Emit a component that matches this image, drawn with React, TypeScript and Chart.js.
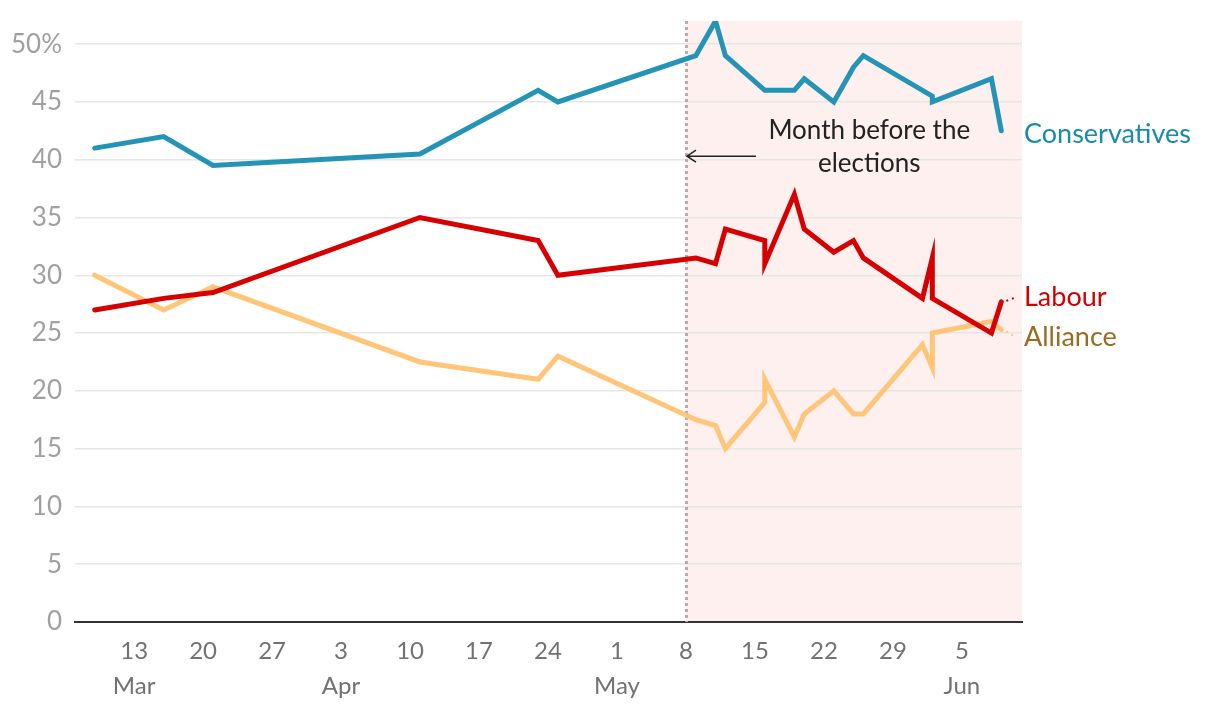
import React, { useEffect, useRef } from "react";
import { Chart, registerables } from "chart.js";

Chart.register(...registerables);

// ---- Data (dates as MM-DD, 1983) ----
const conDates = ["03-09", "03-16", "03-21", "04-11", "04-23", "04-25", "05-09", "05-11", "05-12", "05-16", "05-19", "05-20", "05-23", "05-25", "05-26", "06-02", "06-02", "06-08", "06-09"];
const conValues = [41, 42, 39.5, 40.5, 46, 45, 49, 52, 49, 46, 46, 47, 45, 48, 49, 45.5, 45, 47, 42.5];

const labDates = ["03-09", "03-16", "03-21", "04-11", "04-23", "04-25", "05-09", "05-11", "05-12", "05-16", "05-16", "05-19", "05-20", "05-23", "05-25", "05-26", "06-01", "06-02", "06-02", "06-08", "06-09"];
const labValues = [27, 28, 28.5, 35, 33, 30, 31.5, 31, 34, 33, 31, 37, 34, 32, 33, 31.5, 28, 31.5, 28, 25, 27.7];

const allDates = ["03-09", "03-16", "03-21", "04-11", "04-23", "04-25", "05-09", "05-11", "05-12", "05-16", "05-16", "05-19", "05-20", "05-23", "05-25", "05-26", "06-01", "06-02", "06-02", "06-08", "06-09"];
const allValues = [30, 27, 29, 22.5, 21, 23, 17.5, 17, 15, 19, 21, 16, 18, 20, 18, 18, 24, 22, 25, 26, 25.3];

const seriesNames = ["Conservatives", "Labour", "Alliance"];

const tickDates = ["03-13", "03-20", "03-27", "04-03", "04-10", "04-17", "04-24", "05-01", "05-08", "05-15", "05-22", "05-29", "06-05"];
const dayLabels = ["13", "20", "27", "3", "10", "17", "24", "1", "8", "15", "22", "29", "5"];
const monthLabels = ["Mar", "", "", "Apr", "", "", "", "May", "", "", "", "", "Jun"];
const yTickValues = [0, 5, 10, 15, 20, 25, 30, 35, 40, 45, 50];

const rangeStart = "03-07";
const rangeEnd = "06-11";
const shadeStart = "05-08";
const annotationLines = ["Month before the", "elections"];

// ---- helpers ----
const monthOffsets: Record<number, number> = { 3: 0, 4: 31, 5: 61, 6: 92 };
function dayIndex(md: string): number {
  const [m, d] = md.split("-").map(Number);
  return monthOffsets[m] + d - 1;
}
function toPoints(dates: string[], values: number[]) {
  return dates.map((d, i) => ({ x: dayIndex(d), y: values[i] }));
}

const FONT = "Lato";
const lineColors = ["#2394b6", "#d70000", "#ffc679"];
const labelColors = ["#1a8aab", "#d40000", "#9c6b22"];
const labelValues = [42.2, 28.1, 24.6];

const overlayPlugin = {
  id: "overlay",
  beforeDraw(chart: any) {
    const { ctx, chartArea, scales } = chart;
    const xs = scales.x.getPixelForValue(dayIndex(shadeStart));
    ctx.save();
    ctx.fillStyle = "#fdf0ef";
    ctx.fillRect(xs, chartArea.top, chartArea.right - xs, chartArea.bottom - chartArea.top);
    ctx.restore();
  },
  beforeDatasetsDraw(chart: any) {
    const { ctx, chartArea, scales } = chart;
    const xs = Math.round(scales.x.getPixelForValue(dayIndex(shadeStart))) + 0.5;
    ctx.save();
    ctx.strokeStyle = "#b8adad";
    ctx.lineWidth = 3;
    ctx.setLineDash([3, 3]);
    ctx.beginPath();
    ctx.moveTo(xs, chartArea.top);
    ctx.lineTo(xs, chartArea.bottom);
    ctx.stroke();
    ctx.restore();
  },
  afterDatasetsDraw(chart: any) {
    const { ctx, chartArea, scales } = chart;
    const x = scales.x;
    const y = scales.y;
    ctx.save();
    // annotation
    ctx.fillStyle = "#222";
    ctx.font = `26px ${FONT}`;
    ctx.textAlign = "center";
    ctx.textBaseline = "middle";
    const ax = x.getPixelForValue(86.6);
    ctx.fillText(annotationLines[0], ax, y.getPixelForValue(42.55));
    ctx.fillText(annotationLines[1], ax, y.getPixelForValue(39.7));
    // arrow
    const ay = y.getPixelForValue(40.3);
    const x0 = x.getPixelForValue(dayIndex(shadeStart)) + 1;
    const x1 = x.getPixelForValue(75.1);
    ctx.strokeStyle = "#222";
    ctx.lineWidth = 1.5;
    ctx.beginPath();
    ctx.moveTo(x1, ay);
    ctx.lineTo(x0, ay);
    ctx.moveTo(x0 + 9, ay - 6);
    ctx.lineTo(x0, ay);
    ctx.lineTo(x0 + 9, ay + 6);
    ctx.stroke();

    // end labels
    ctx.textAlign = "left";
    ctx.font = `27px ${FONT}`;
    const lx = chartArea.right + 2;
    seriesNames.forEach((name, i) => {
      ctx.fillStyle = labelColors[i];
      ctx.fillText(name, lx, y.getPixelForValue(labelValues[i]));
    });
    // small dotted connectors for Labour and Alliance
    const ends = [
      { d: labDates[labDates.length - 1], v: labValues[labValues.length - 1], c: lineColors[1], lv: labelValues[1] },
      { d: allDates[allDates.length - 1], v: allValues[allValues.length - 1], c: lineColors[2], lv: labelValues[2] },
    ];
    ends.forEach((e) => {
      const ex = x.getPixelForValue(dayIndex(e.d)) + 5;
      const ey = y.getPixelForValue(e.v);
      const tx = chartArea.right - 6;
      const ty = y.getPixelForValue(e.lv);
      ctx.strokeStyle = e.c;
      ctx.lineWidth = 2;
      ctx.setLineDash([2, 4]);
      ctx.beginPath();
      ctx.moveTo(ex, ey + (ty - ey) * 0.2);
      ctx.lineTo(tx, ty);
      ctx.stroke();
    });
    ctx.restore();
  },
};

export default function App() {
  const canvasRef = useRef<HTMLCanvasElement | null>(null);

  useEffect(() => {
    document.body.style.margin = "0";
    const canvas = canvasRef.current;
    if (!canvas) return;
    const ds = [
      toPoints(conDates, conValues),
      toPoints(labDates, labValues),
      toPoints(allDates, allValues),
    ];
    const chart = new Chart(canvas, {
      type: "line",
      data: {
        datasets: seriesNames.map((name, i) => ({
          label: name,
          data: ds[i],
          borderColor: lineColors[i],
          backgroundColor: lineColors[i],
          borderWidth: 5,
          pointRadius: 0,
          tension: 0,
          borderCapStyle: "round",
          borderJoinStyle: "miter",
          fill: false,
        })),
      },
      options: {
        responsive: false,
        animation: false,
        parsing: false,
        normalized: true,
        layout: { padding: { top: 21, right: 198, left: 0, bottom: 0 } },
        plugins: {
          legend: { display: false },
          tooltip: { enabled: false },
          title: { display: false },
        },
        scales: {
          x: {
            type: "linear",
            min: dayIndex(rangeStart),
            max: dayIndex(rangeEnd) + 0.1,
            afterBuildTicks: (s: any) => {
              s.ticks = tickDates.map((d) => ({ value: dayIndex(d) }));
            },
            afterFit: (s: any) => {
              s.height = 86;
              s.paddingLeft = 0;
              s.paddingRight = 0;
            },
            grid: { display: false, drawTicks: false },
            border: { display: true, color: "#333", width: 2 },
            ticks: {
              autoSkip: false,
              maxRotation: 0,
              minRotation: 0,
              padding: 12,
              color: "#727272",
              font: { family: FONT, size: 24, lineHeight: 1.45 },
              callback: (_v: any, i: number) =>
                monthLabels[i] ? [dayLabels[i], monthLabels[i]] : dayLabels[i],
            },
          },
          y: {
            type: "linear",
            min: 0,
            max: 52,
            afterBuildTicks: (s: any) => {
              s.ticks = yTickValues.map((v) => ({ value: v }));
            },
            afterFit: (s: any) => {
              s.width = 75;
              s.paddingTop = 0;
              s.paddingBottom = 0;
            },
            grid: {
              drawTicks: false,
              lineWidth: 1.5,
              color: (c: any) => (c.tick && c.tick.value === 0 ? "rgba(0,0,0,0)" : "#e6e6e6"),
            },
            border: { display: false },
            ticks: {
              padding: 13,
              color: "#a0a0a0",
              font: { family: FONT, size: 26 },
              callback: (v: any) => (v === 50 ? "50%" : String(v)),
            },
          },
        },
      },
      plugins: [overlayPlugin],
    } as any);
    return () => chart.destroy();
  }, []);

  return (
    <div style={{ width: 1220, height: 708 }}>
      <canvas ref={canvasRef} width={1220} height={708} style={{ display: "block" }} />
    </div>
  );
}
